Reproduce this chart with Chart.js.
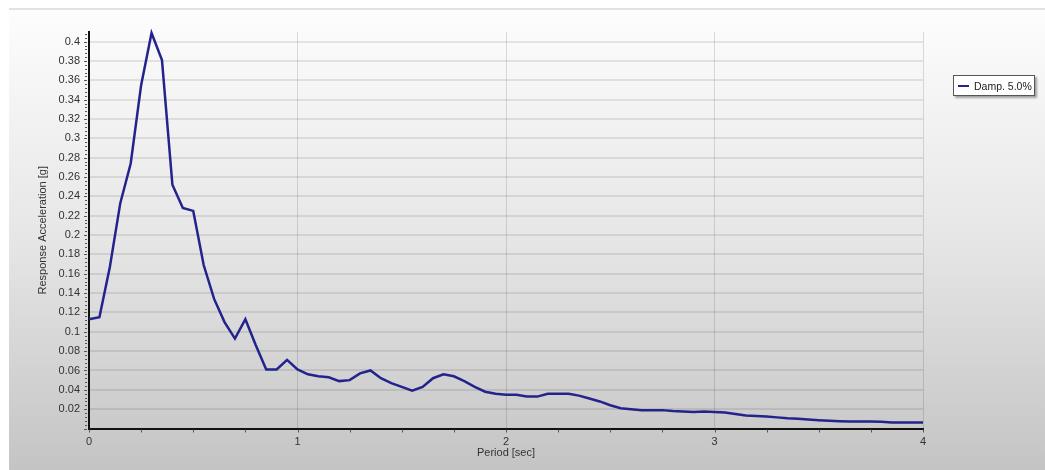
<!DOCTYPE html>
<html>
<head>
<meta charset="utf-8">
<script src="https://cdn.jsdelivr.net/npm/chart.js@4.4.1/dist/chart.umd.min.js"></script>
<style>
  html, body { margin: 0; padding: 0; background: #fff; }
  #wrap { position: relative; width: 1045px; height: 470px; }
  #legend {
    position: absolute; left: 953px; top: 75px; width: 80px; height: 19px;
    background: #fff; border: 1px solid #555;
    box-shadow: 2px 2px 2px rgba(0,0,0,0.35);
    font: 10.5px "Liberation Sans", Arial, sans-serif; color: #222;
    display: flex; align-items: center; white-space: nowrap; overflow: hidden;
  }
  #legend .swatch { flex: none; width: 11px; height: 2px; background: #23238e; margin: 0 5px 0 4px; }
</style>
</head>
<body>
<div id="wrap">
  <canvas id="chart" width="1045" height="470"></canvas>
  <div id="legend"><span class="swatch"></span><span id="legendText"></span></div>
</div>
<script>
// spectrum (period in sec, acceleration in g)
const periods = [
  0, 0.05, 0.1, 0.15, 0.2, 0.25, 0.3, 0.35, 0.4, 0.45,
  0.5, 0.55, 0.6, 0.65, 0.7, 0.75, 0.8, 0.85, 0.9, 0.95,
  1, 1.05, 1.1, 1.15, 1.2, 1.25, 1.3, 1.35, 1.4, 1.45,
  1.5, 1.55, 1.6, 1.65, 1.7, 1.75, 1.8, 1.85, 1.9, 1.95,
  2, 2.05, 2.1, 2.15, 2.2, 2.25, 2.3, 2.35, 2.4, 2.45,
  2.5, 2.55, 2.6, 2.65, 2.7, 2.75, 2.8, 2.85, 2.9, 2.95,
  3, 3.05, 3.1, 3.15, 3.2, 3.25, 3.3, 3.35, 3.4, 3.45,
  3.5, 3.55, 3.6, 3.65, 3.7, 3.75, 3.8, 3.85, 3.9, 3.95,
  4
]
const damp5 = [
  0.113, 0.115, 0.167, 0.233, 0.274, 0.355, 0.409, 0.381, 0.252, 0.228,
  0.225, 0.169, 0.134, 0.110, 0.093, 0.113, 0.086, 0.061, 0.061, 0.071,
  0.061, 0.056, 0.054, 0.053, 0.049, 0.050, 0.057, 0.060, 0.052, 0.047,
  0.043, 0.039, 0.043, 0.052, 0.056, 0.054, 0.049, 0.043, 0.038, 0.036,
  0.035, 0.035, 0.033, 0.033, 0.036, 0.036, 0.036, 0.034, 0.031, 0.028,
  0.024, 0.021, 0.020, 0.019, 0.019, 0.019, 0.018, 0.0175, 0.017, 0.0175,
  0.017, 0.0165, 0.015, 0.0135, 0.013, 0.0125, 0.0115, 0.0105, 0.010, 0.0093,
  0.0086, 0.008, 0.0076, 0.0072, 0.0072, 0.0072, 0.0069, 0.0063, 0.0062, 0.0062,
  0.0062
]
const seriesLabel = 'Damp. 5.0%'
const xTitle = 'Period [sec]'
const yTitle = 'Response Acceleration [g]'

document.getElementById('legendText').textContent = seriesLabel

const font = { family: '"Liberation Sans", Arial, sans-serif', size: 11 }

const background = {
  id: 'background',
  beforeDraw(chart) {
    const { ctx, width, height } = chart
    ctx.save()
    ctx.fillStyle = '#fff'
    ctx.fillRect(0, 0, width, height)
    const g = ctx.createLinearGradient(0, 10, 0, height)
    g.addColorStop(0, '#fdfdfd')
    g.addColorStop(0.5, '#e6e6e6')
    g.addColorStop(1, '#c4c4c4')
    ctx.fillStyle = g
    ctx.fillRect(9, 10, width - 9, height - 10)
    ctx.fillStyle = '#e2e2e2'
    ctx.fillRect(9, 8, width - 9, 2)
    ctx.restore()
  }
}

const minorTicks = {
  id: 'minorTicks',
  afterDraw(chart) {
    const { ctx, chartArea, scales } = chart
    ctx.save()
    ctx.strokeStyle = '#555'
    ctx.lineWidth = 1
    ctx.beginPath()
    for (let i = 0; i <= 102; i++) {
      const y = Math.round(scales.y.getPixelForValue(i * 0.004)) + 0.5
      const len = i % 5 === 0 ? 3 : 2
      ctx.moveTo(chartArea.left - 2, y)
      ctx.lineTo(chartArea.left - 2 - len, y)
    }
    for (let i = 0; i <= 16; i++) {
      const x = Math.round(scales.x.getPixelForValue(i * 0.25)) + 0.5
      ctx.moveTo(x, chartArea.bottom + 1)
      ctx.lineTo(x, chartArea.bottom + 4)
    }
    ctx.stroke()
    ctx.restore()
  }
}

new Chart(document.getElementById('chart'), {
  type: 'line',
  data: {
    datasets: [{
      label: seriesLabel,
      data: periods.map((p, i) => ({ x: p, y: damp5[i] })),
      borderColor: '#23238e',
      borderWidth: 2.5,
      pointRadius: 0,
      tension: 0,
      clip: 4
    }]
  },
  options: {
    responsive: false,
    animation: false,
    layout: { padding: { top: 32, right: 122, left: 0, bottom: 0 } },
    plugins: { legend: { display: false }, tooltip: { enabled: false } },
    scales: {
      x: {
        type: 'linear',
        min: 0,
        max: 4,
        afterFit(scale) { scale.height = 41.5 },
        ticks: { stepSize: 1, padding: 7, color: '#333', font },
        grid: {
          drawTicks: false,
          lineWidth: 1,
          color: (c) => c.tick && c.tick.value === 0 ? 'rgba(0,0,0,0)' : 'rgba(0,0,0,0.13)'
        },
        border: { color: '#111', width: 2 },
        title: { display: true, text: xTitle, color: '#333', font, padding: { top: 0, bottom: 10 } }
      },
      y: {
        min: 0,
        max: 0.41,
        afterFit(scale) { scale.width = 89 },
        ticks: {
          stepSize: 0.02,
          includeBounds: false,
          padding: 9,
          color: '#333',
          font,
          callback: (v) => v === 0 ? '' : +v.toFixed(2)
        },
        grid: { drawTicks: false, lineWidth: 2, color: 'rgba(0,0,0,0.09)' },
        border: { color: '#111', width: 2 },
        title: { display: true, text: yTitle, color: '#333', font, padding: { top: 36, bottom: 0 } }
      }
    }
  },
  plugins: [background, minorTicks]
})
</script>
</body>
</html>
